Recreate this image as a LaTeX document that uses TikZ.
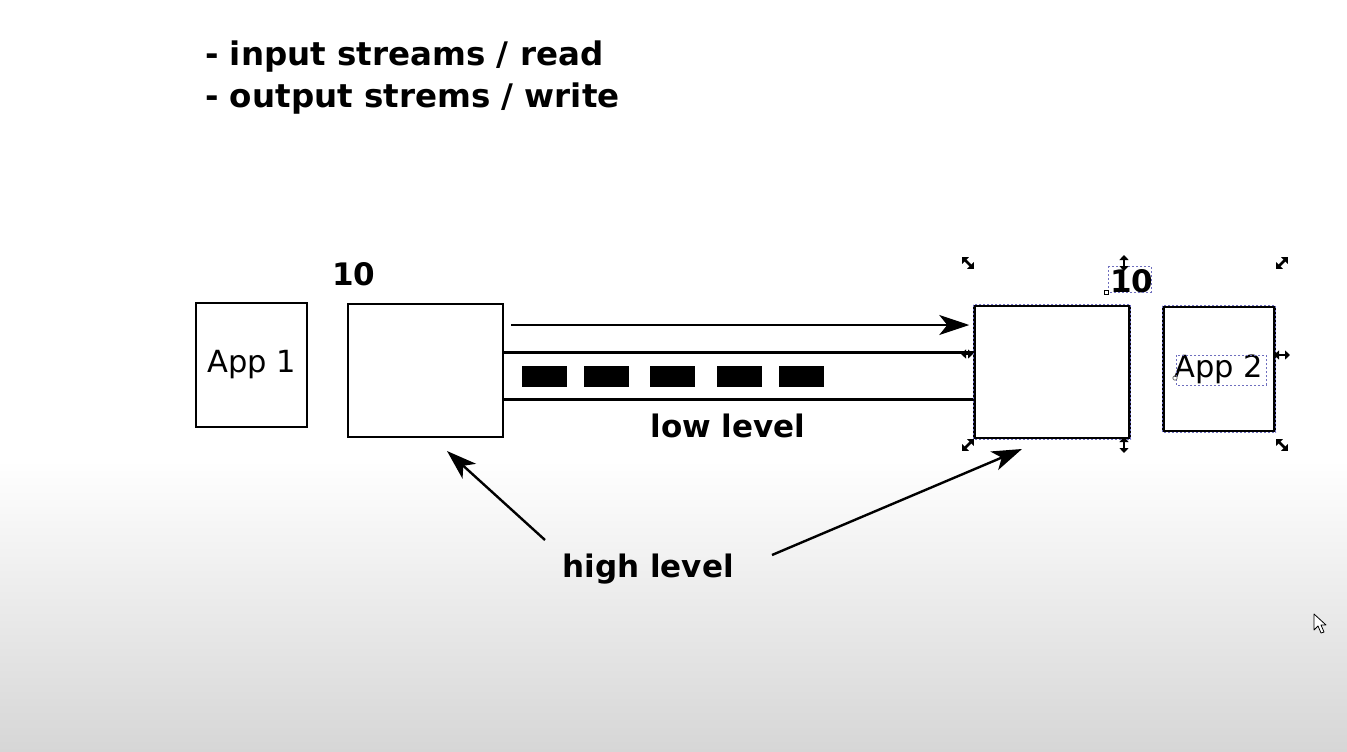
\documentclass[tikz,border=0pt]{standalone}
\usepackage{fontspec}
\setmainfont{DejaVu Sans}
\usepackage{tikz}
\usetikzlibrary{arrows.meta,calc}
\definecolor{selblue}  {RGB}{110,110,190}
\definecolor{shadegray}{RGB}{214,214,214}
\tikzset{
  bigtxt/.style ={font=\fontsize{31}{41}\selectfont\bfseries, inner sep=0pt},
  headtxt/.style={bigtxt, font=\fontsize{32.5}{41}\selectfont\bfseries},
  streambox/.style={draw, line width=2.5pt, minimum width=155pt,
                  minimum height=133pt, inner sep=0pt},
  appbox/.style ={streambox, minimum width=111pt, minimum height=124pt,
                  font=\fontsize{30.5}{36}\selectfont},
  byteblk/.style={fill=black, minimum width=45pt, minimum height=21pt,
                  inner sep=0pt},
  pipe/.style   ={line width=3pt},
  arr/.style    ={-{Stealth[length=30pt,width=20pt,inset=8pt]}, line width=2.4pt},
  sel/.style    ={selblue, dash pattern=on 2pt off 2pt, line width=0.8pt},
  handle/.style ={{Triangle[length=5pt,width=9pt]}-{Triangle[length=5pt,width=9pt]},
                  line width=2.8pt},
}
\begin{document}
\begin{tikzpicture}[x=1pt, y=-1pt]

%% ─── Background ──────────────────────────────────────────────────────────────
\useasboundingbox (0,0) rectangle (1347,752);
\fill[white] (0,0) rectangle (1347,752);
\shade[top color=white, bottom color=shadegray] (0,460) rectangle (1347,752);

%% ─── Heading ─────────────────────────────────────────────────────────────────
\node[headtxt, anchor=base west] (rd) at (205,66)  {- input streams / read};
\node[headtxt, anchor=base west] (wr) at (205,107) {- output strems / write};

%% ─── Boxes ───────────────────────────────────────────────────────────────────
\node[appbox]    (app1) at (251.5,365) {App 1};
\node[streambox] (bufL) at (425.5,370.5) {};
\node[streambox, minimum height=132pt] (bufR) at (1052,372) {};
\node[appbox]    (app2) at (1219,369) {App 2};

\node[bigtxt, anchor=base west] (nL) at (332,285)  {10};
\node[bigtxt, anchor=base west] (nR) at (1110,292) {10};

%% ─── Pipe with bytes ─────────────────────────────────────────────────────────
\coordinate (pT) at (0,352);
\coordinate (pB) at (0,399);
\draw[pipe] (bufL.east |- pT) -- (bufR.west |- pT);
\draw[pipe] (bufL.east |- pB) -- (bufR.west |- pB);

\foreach \i/\x in {1/544.5, 2/606.5, 3/672.5, 4/739, 5/801}{
  \node[byteblk] (b\i) at (\x,376) {};
}
\node[bigtxt, anchor=base] (low) at (728,437) {low level};

%% ─── Flow arrow ──────────────────────────────────────────────────────────────
\coordinate (aS) at (511,325);
\draw[arr, shorten >=4pt] (aS) -- (bufR.west |- aS);

%% ─── High level ──────────────────────────────────────────────────────────────
\node[bigtxt, anchor=base] (high) at (648,577) {high level};
\coordinate (hlA) at (545,540);
\coordinate (hlB) at (772,555);
\coordinate (tipL) at (447,451);
\coordinate (tipR) at (1022,449);
\draw[arr] (hlA) -- (tipL);
\draw[arr] (hlB) -- (tipR);

%% ─── Editor selection marks ──────────────────────────────────────────────────
\draw[sel] (bufR.north west) rectangle (bufR.south east);
\draw[sel] (app2.north west) rectangle (app2.south east);
\draw[sel] (1176,355) rectangle (1266,385);
\draw[sel] (1108,266) rectangle (1151,292);
\draw[black, line width=0.7pt, fill=white] (1104,290) rectangle (1108,294);
\draw[black!60, line width=0.7pt] (1175,378) circle (2.2);

\foreach \x/\y/\dx/\dy in {968/263/6/6, 1282/263/6/-6, 968/445/6/-6,
                           1282/445/6/6, 1124/263/0/8, 1124/445/0/8,
                           1282/355/8/0, 967/354/6/0}{
  \draw[handle] (\x-\dx,\y-\dy) -- (\x+\dx,\y+\dy);
}

%% ─── Pointer ─────────────────────────────────────────────────────────────────
\draw[fill=white, line width=0.8pt, line join=round]
  (1314,614) -- (1314,630) -- (1318,626) -- (1321,633) -- (1324,632)
  -- (1321,625) -- (1326,625) -- cycle;

\end{tikzpicture}
\end{document}
